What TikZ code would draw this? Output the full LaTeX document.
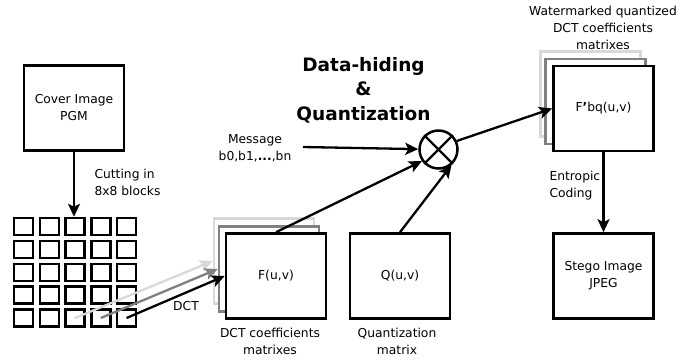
\documentclass[tikz,border=0pt]{standalone}
\usepackage{fontspec}
\setmainfont{DejaVu Sans}
\usetikzlibrary{arrows.meta}
\begin{document}
\begin{tikzpicture}[x=1pt, y=-1pt,
    every node/.style={font=\fontsize{12.3}{17}\selectfont, align=center},
    box/.style={draw, line width=2.6pt, fill=white, minimum width=100pt, minimum height=85pt},
    blocco/.style={draw, line width=2.5pt, minimum width=19pt, minimum height=17pt},
    freccia/.style={line width=2.3pt, -{Stealth[length=13pt, width=12pt, inset=3pt]}}]
        \useasboundingbox (0,0) rectangle (693,360);

        % Immagine di partenza
        \node[box] (cover) at (74,108) {Cover Image\\PGM};
        \node[anchor=west, align=left] (taglio) at (91,182) {Cutting in\\8x8 blocks};

        % Blocchi 8x8
        \foreach \i in {1,...,5}
            \foreach \j in {1,...,5}
                \node[blocco] (b\i\j) at ({23.5+25.75*(\i-1)},{226.5+22.875*(\j-1)}) {};

        % Coefficienti DCT
        \node[box, draw=black!15] (Fl) at (264,261) {};
        \node[box, draw=black!50] (Fg) at (269,269) {};
        \node[box] (F) at (276,276) {F(u,v)};
        \node (Flab) at (270,341) {DCT coefficients\\matrixes};
        \node (dct) at (186,306) {DCT};

        % Matrice di quantizzazione
        \node[box] (Q) at (400,276) {Q(u,v)};
        \node (Qlab) at (397,341) {Quantization\\matrix};

        % Inserimento del messaggio
        \node[font=\bfseries\fontsize{18.5}{24.5}\selectfont] (titolo) at (363.5,90) {Data-hiding\\\&\\Quantization};
        \node (msg) at (255,148.5) {Message\\b0,b1,{\bfseries ...},bn};
        \coordinate (m0) at (303,147);
        \node[circle, draw, line width=2.5pt, minimum size=38pt, inner sep=0pt] (mix) at (438.5,149.5) {};
        \draw[line width=2.3pt] (mix.north west) -- (mix.south east);
        \draw[line width=2.3pt] (mix.north east) -- (mix.south west);

        % Coefficienti marcati
        \node[box, draw=black!15] (Fbl) at (590.5,94) {};
        \node[box, draw=black!50] (Fbg) at (595.5,101.5) {};
        \node[box] (Fb) at (603.5,108.5) {F{\bfseries\symbol{"27}}bq(u,v)};
        \node (Fblab) at (603,27.5) {Watermarked quantized\\DCT coefficients\\matrixes};

        % Immagine finale
        \node[box] (stego) at (603.5,276) {Stego Image\\JPEG};
        \node[anchor=west, align=left] (entropia) at (546,186) {Entropic\\Coding};

        % Collegamenti
        \draw[freccia] (cover.south) -- (cover.south |- b31.north);
        \draw[freccia, draw=black!15, fill=black!15] (b35.center) -- (Fl.west);
        \draw[freccia, draw=black!50, fill=black!50] (b45.center) -- (Fg.west);
        \draw[freccia] (b55.center) -- (F.west);
        \draw[freccia] (m0) -- (mix);
        \draw[freccia] (F.north) -- (mix.215);
        \draw[freccia] (Q.north) -- (mix.-50);
        \draw[freccia] (mix.25) -- (Fb.west);
        \draw[freccia] (Fb.south) -- (stego.north);
    \end{tikzpicture}
\end{document}
